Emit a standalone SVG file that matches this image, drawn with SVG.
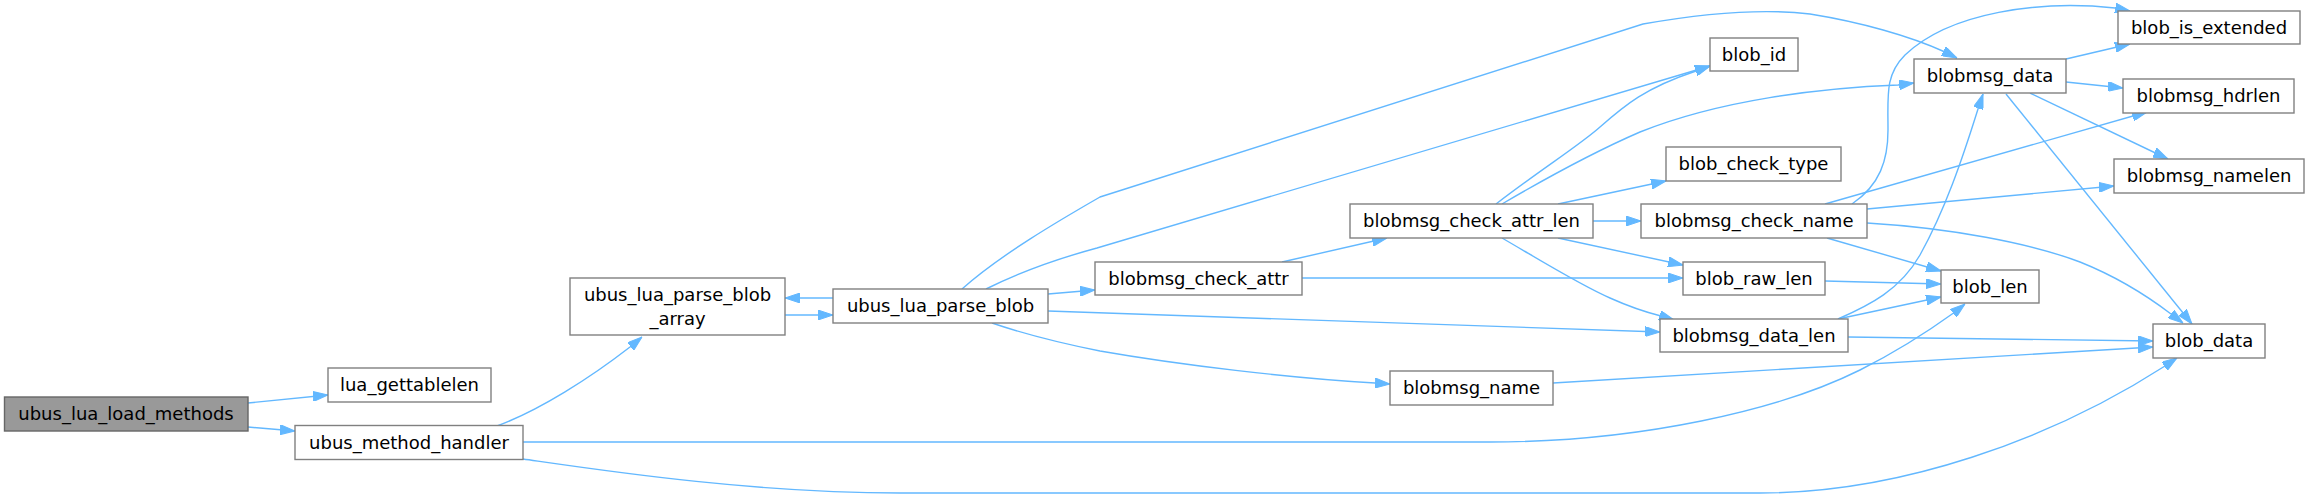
<svg xmlns="http://www.w3.org/2000/svg" width="2310" height="499" viewBox="0 0 2310 499">
<style>
.n rect{fill:#ffffff;stroke:#808080;stroke-width:1.4}
.s rect{fill:#999999;stroke:#666666;stroke-width:1.4}
text{font-family:"DejaVu Sans","Liberation Sans",sans-serif;font-size:18px;fill:#000000;text-anchor:middle}
#edges path{fill:none;stroke:#63b8ff;stroke-width:1.4;marker-end:url(#ah)}
</style>
<defs>
<marker id="ah" viewBox="0 0 15 10" refX="15" refY="5" markerWidth="15" markerHeight="10" markerUnits="userSpaceOnUse" orient="auto">
<path d="M0,0 L15,5 L0,10 z" fill="#63b8ff" stroke="#63b8ff" stroke-width="1"/>
</marker>
</defs>
<rect width="2310" height="499" fill="#ffffff"/>
<g id="edges">
<path d="M248,403 L328,395"/>
<path d="M248,427 L295,431"/>
<path d="M497,426 C540,410 590,378 630,347 L642,337"/>
<path d="M523,442 L1490,442 C1640,442 1780,410 1860,370 C1900,350 1930,330 1955,312 L1965,304"/>
<path d="M523,459 C600,470 750,493 900,493 L1760,493 C1900,493 2050,440 2165,366 L2177,358"/>
<path d="M785,315 L833,315"/>
<path d="M833,298 L785,298"/>
<path d="M986,289 C1020,272 1060,258 1097,248 L1710,66"/>
<path d="M1048,294 L1095,290"/>
<path d="M962,289 C1000,255 1060,220 1100,197 L1643,24 C1700,14 1760,8 1810,14 C1860,22 1910,36 1945,52 L1957,58"/>
<path d="M1048,311 L1660,332"/>
<path d="M992,323 C1030,336 1070,345 1100,351 C1180,365 1290,378 1375,383 L1390,384"/>
<path d="M1282,262 L1387,238"/>
<path d="M1302,278 L1683,278"/>
<path d="M1496,204 C1540,170 1580,145 1600,127 C1625,105 1645,88 1696,71 L1710,66"/>
<path d="M1558,204 L1666,181"/>
<path d="M1593,221 L1641,221"/>
<path d="M1558,238 L1683,265"/>
<path d="M1502,204 C1560,170 1610,145 1640,132 C1720,100 1820,88 1898,85 L1914,83"/>
<path d="M1502,238 C1540,260 1580,285 1610,298 C1630,307 1645,312 1661,316 L1674,320"/>
<path d="M1852,204 C1880,185 1888,160 1888,130 C1888,95 1885,75 1905,55 C1950,12 2040,0 2115,8 L2130,11"/>
<path d="M1825,204 L2147,112"/>
<path d="M1867,209 L2114,186"/>
<path d="M1827,238 L1941,271"/>
<path d="M1867,223 C1950,228 2030,243 2080,262 C2120,278 2150,298 2171,314 L2183,323"/>
<path d="M1825,281 L1941,284"/>
<path d="M1838,319 C1870,305 1900,290 1920,255 C1945,210 1962,160 1978,109 L1983,94"/>
<path d="M1838,319 L1941,297"/>
<path d="M1848,337 L2153,341"/>
<path d="M1553,383 L2153,347"/>
<path d="M2066,59 L2130,44"/>
<path d="M2066,82 L2123,88"/>
<path d="M2030,93 L2168,159"/>
<path d="M2006,94 L2192,324"/>
</g>
<g id="ubus_lua_load_methods" class="s"><rect x="4.5" y="397" width="243.5" height="34"/><text x="126" y="420">ubus_lua_load_methods</text></g>
<g id="lua_gettablelen" class="n"><rect x="328" y="368" width="163" height="34"/><text x="409.5" y="391">lua_gettablelen</text></g>
<g id="ubus_method_handler" class="n"><rect x="295" y="425.5" width="228" height="34"/><text x="409" y="448.5">ubus_method_handler</text></g>
<g id="ubus_lua_parse_blob_array" class="n"><rect x="570" y="278" width="215" height="57"/><text x="677.5" y="301">ubus_lua_parse_blob</text><text x="677.5" y="325">_array</text></g>
<g id="ubus_lua_parse_blob" class="n"><rect x="833" y="289" width="215" height="34"/><text x="940.5" y="312">ubus_lua_parse_blob</text></g>
<g id="blob_id" class="n"><rect x="1710" y="38" width="88" height="33"/><text x="1754" y="61">blob_id</text></g>
<g id="blobmsg_check_attr" class="n"><rect x="1095" y="262" width="207" height="33"/><text x="1198.5" y="285">blobmsg_check_attr</text></g>
<g id="blobmsg_data" class="n"><rect x="1914" y="59" width="152" height="34"/><text x="1990" y="82">blobmsg_data</text></g>
<g id="blobmsg_data_len" class="n"><rect x="1660" y="319" width="188" height="33"/><text x="1754" y="342">blobmsg_data_len</text></g>
<g id="blobmsg_name" class="n"><rect x="1390" y="371" width="163" height="34"/><text x="1471.5" y="394">blobmsg_name</text></g>
<g id="blobmsg_check_attr_len" class="n"><rect x="1350" y="204" width="243" height="34"/><text x="1471.5" y="227">blobmsg_check_attr_len</text></g>
<g id="blob_raw_len" class="n"><rect x="1683" y="262" width="142" height="33"/><text x="1754" y="285">blob_raw_len</text></g>
<g id="blob_check_type" class="n"><rect x="1666" y="147" width="175" height="34"/><text x="1753.5" y="170">blob_check_type</text></g>
<g id="blobmsg_check_name" class="n"><rect x="1641" y="204" width="226" height="34"/><text x="1754" y="227">blobmsg_check_name</text></g>
<g id="blob_is_extended" class="n"><rect x="2118" y="11" width="182" height="33"/><text x="2209" y="34">blob_is_extended</text></g>
<g id="blobmsg_hdrlen" class="n"><rect x="2123" y="79" width="171" height="34"/><text x="2208.5" y="102">blobmsg_hdrlen</text></g>
<g id="blobmsg_namelen" class="n"><rect x="2114" y="159" width="190" height="34"/><text x="2209" y="182">blobmsg_namelen</text></g>
<g id="blob_len" class="n"><rect x="1941" y="270" width="98" height="33"/><text x="1990" y="293">blob_len</text></g>
<g id="blob_data" class="n"><rect x="2153" y="324" width="112" height="34"/><text x="2209" y="347">blob_data</text></g>
</svg>
